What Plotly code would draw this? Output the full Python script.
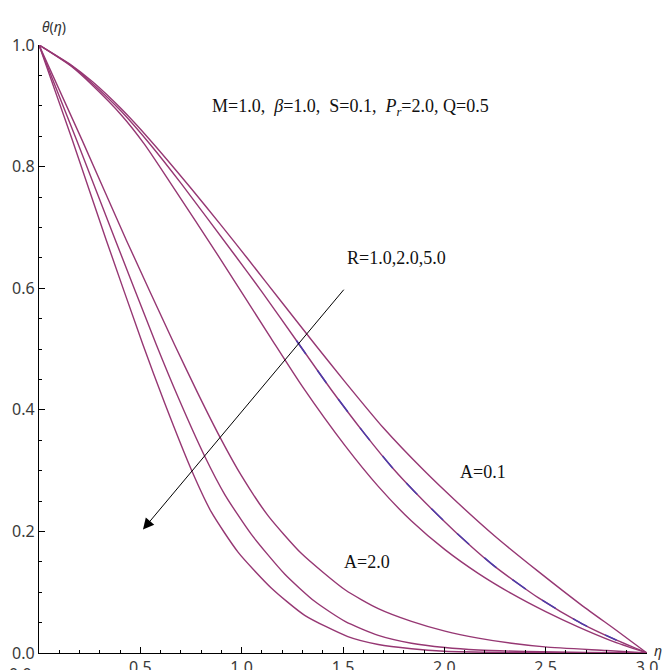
import plotly.graph_objects as go

# ---- data ----
# A = 2.0 group (R = 5.0, 2.0, 1.0 from left to right)
eta_L1 = [0.0, 0.164, 0.332, 0.513, 0.620, 0.756, 0.850, 0.982, 1.146, 1.311, 1.524, 1.674, 1.838, 2.0, 2.3, 2.7, 3.0]
th_L1 = [1.0, 0.844, 0.679, 0.507, 0.411, 0.298, 0.232, 0.166, 0.107, 0.062, 0.027, 0.014, 0.007, 0.003, 0.001, 0.0003, 0.0]
eta_L2 = [0.0, 0.185, 0.377, 0.579, 0.686, 0.817, 0.916, 1.048, 1.212, 1.36, 1.51, 1.674, 1.838, 2.003, 2.167, 2.4, 2.7, 3.0]
th_L2 = [1.0, 0.844, 0.679, 0.507, 0.421, 0.324, 0.261, 0.195, 0.130, 0.085, 0.052, 0.029, 0.016, 0.009, 0.005, 0.0025, 0.001, 0.0]
eta_L3 = [0.0, 0.212, 0.431, 0.669, 0.784, 0.896, 0.998, 1.130, 1.294, 1.51, 1.674, 1.838, 2.003, 2.167, 2.332, 2.496, 2.8, 3.0]
th_L3 = [1.0, 0.844, 0.679, 0.507, 0.427, 0.353, 0.292, 0.226, 0.164, 0.104, 0.073, 0.052, 0.036, 0.0245, 0.016, 0.010, 0.004, 0.0]

# A = 0.1 group
eta_U1 = [0.0, 0.159, 0.266, 0.406, 0.52, 0.645, 0.891, 1.146, 1.30, 1.51, 1.674, 1.838, 2.003, 2.167, 2.33, 2.5, 2.66, 2.825, 3.0]
th_U1 = [1.0, 0.965, 0.933, 0.885, 0.837, 0.775, 0.650, 0.517, 0.438, 0.341, 0.274, 0.217, 0.170, 0.131, 0.098, 0.068, 0.043, 0.020, 0.0]
eta_U2 = [0.0, 0.159, 0.266, 0.406, 0.55, 0.702, 0.965, 1.10, 1.27, 1.442, 1.608, 1.748, 1.863, 2.052, 2.25, 2.463, 2.68, 2.85, 3.0]
th_U2 = [1.0, 0.966, 0.936, 0.891, 0.836, 0.772, 0.655, 0.594, 0.514, 0.433, 0.360, 0.303, 0.262, 0.200, 0.142, 0.091, 0.048, 0.021, 0.0]
eta_U3 = [0.0, 0.159, 0.266, 0.406, 0.55, 0.751, 0.90, 1.031, 1.20, 1.368, 1.51, 1.70, 1.90, 2.05, 2.25, 2.46, 2.68, 2.85, 3.0]
th_U3 = [1.0, 0.967, 0.939, 0.895, 0.843, 0.764, 0.703, 0.648, 0.576, 0.505, 0.446, 0.370, 0.300, 0.252, 0.192, 0.135, 0.078, 0.037, 0.0]

x_ticks = [0.0, 0.5, 1.0, 1.5, 2.0, 2.5, 3.0]
x_labels = ["", "0.5", "1.0", "1.5", "2.0", "2.5", "3.0"]   # x "0.0" is drawn shifted left, as in the reference
y_ticks = [0.0, 0.2, 0.4, 0.6, 0.8, 1.0]
y_labels = ["0.0", "0.2", "0.4", "0.6", "0.8", "1.0"]

curves = [(eta_L1, th_L1), (eta_L2, th_L2), (eta_L3, th_L3),
          (eta_U1, th_U1), (eta_U2, th_U2), (eta_U3, th_U3)]

line_color = "rgb(150,55,115)"

fig = go.Figure()
for ex, ty in curves:
    fig.add_trace(go.Scatter(x=ex, y=ty, mode="lines", cliponaxis=False,
                             line=dict(color=line_color, width=1.4, shape="spline", smoothing=0.6),
                             showlegend=False, hoverinfo="skip"))

# blue dashes visible along the middle A=0.1 curve
sub = [i for i, v in enumerate(eta_U2) if 1.27 <= v <= 2.9]
fig.add_trace(go.Scatter(x=[eta_U2[i] for i in sub], y=[th_U2[i] for i in sub], mode="lines",
                         line=dict(color="rgb(75,60,170)", width=1.5, dash="16px,20px",
                                   shape="spline", smoothing=0.6),
                         showlegend=False, hoverinfo="skip"))

tick_font = dict(family="Noto Sans", size=16, color="#3a3a3a")
ann_font = dict(family="Liberation Serif", size=18, color="#111")
sp = "\u00a0"

fig.update_layout(
    width=667, height=670,
    margin=dict(l=39, r=20, t=45, b=17),
    paper_bgcolor="white", plot_bgcolor="white",
    xaxis=dict(range=[0, 3], tickvals=x_ticks, ticktext=x_labels,
               automargin=False,
               showgrid=False, zeroline=False, showline=True, linecolor="black", linewidth=1.2,
               ticks="inside", ticklen=6, tickcolor="black", tickfont=tick_font,
               minor=dict(dtick=0.1, tick0=0, ticks="inside", ticklen=3, tickcolor="black")),
    yaxis=dict(range=[0, 1], tickvals=y_ticks, ticktext=y_labels,
               automargin=False,
               showgrid=False, zeroline=False, showline=True, linecolor="black", linewidth=1.2,
               ticks="inside", ticklen=6, tickcolor="black", tickfont=tick_font,
               minor=dict(dtick=0.05, tick0=0, ticks="inside", ticklen=3, tickcolor="black")),
)

annotations = [
    dict(x=0.844, y=0.898, xref="x", yref="y", xanchor="left", showarrow=False, font=ann_font,
         text=f"M=1.0,{sp}{sp}<i>β</i>=1.0,{sp}{sp}S=0.1,{sp}{sp}<i>P<sub>r</sub></i>=2.0,{sp}Q=0.5"),
    dict(x=1.51, y=0.650, xref="x", yref="y", xanchor="left", showarrow=False, font=ann_font,
         text="R=1.0,2.0,5.0"),
    dict(x=2.067, y=0.298, xref="x", yref="y", xanchor="left", showarrow=False, font=ann_font,
         text="A=0.1"),
    dict(x=1.495, y=0.149, xref="x", yref="y", xanchor="left", showarrow=False, font=ann_font,
         text="A=2.0"),
    dict(x=0.513, y=0.203, ax=1.51, ay=0.60, xref="x", yref="y", axref="x", ayref="y",
         showarrow=True, arrowhead=2, arrowsize=2.2, arrowwidth=1, arrowcolor="black", text=""),
    dict(x=0.0, y=0.0, xref="paper", yref="paper", xanchor="center", yanchor="top",
         xshift=-19, yshift=-8, showarrow=False, font=tick_font, text=f"{x_ticks[0]:.1f}"),
    dict(x=0.0, y=1.0, xref="paper", yref="paper", xshift=1, yshift=30, showarrow=False,
         font=dict(family="Noto Sans", size=14, color="#333"), text="<i>θ</i>(<i>η</i>)"),
    dict(x=1.0, y=0.0, xref="paper", yref="paper", xshift=17, yshift=-9, showarrow=False,
         font=dict(family="Noto Sans", size=14, color="#333"), text="<i>η</i>"),
]
fig.update_layout(annotations=annotations)

fig.write_html("out.html")
